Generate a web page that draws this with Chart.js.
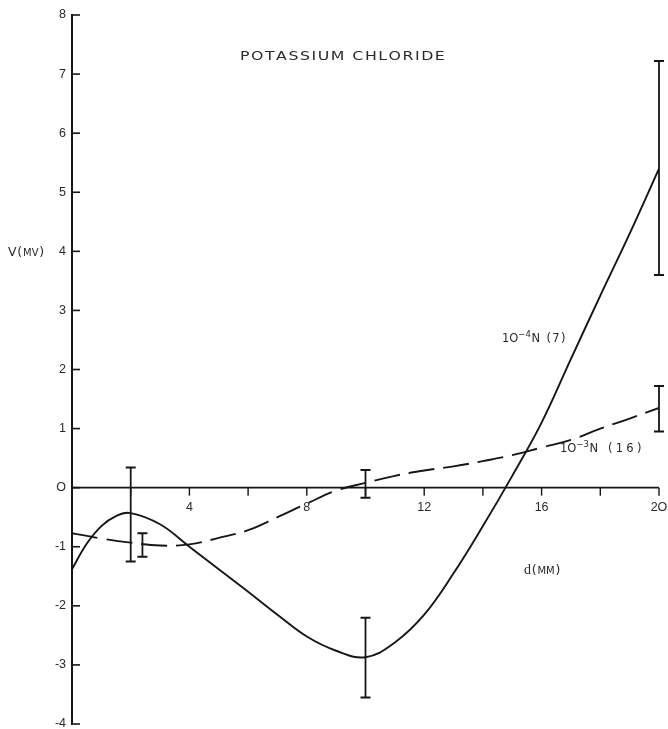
<!DOCTYPE html>
<html>
<head>
<meta charset="utf-8">
<script src="https://cdn.jsdelivr.net/npm/chart.js@4"></script>
<style>
  html, body { margin: 0; padding: 0; background: #fff; }
  canvas { display: block; }
</style>
</head>
<body>
<canvas id="chart" width="668" height="729"></canvas>
<script>
// Distance from the reference point, d (mm)
const dist4 = [0, 0.5, 1, 1.5, 2, 3, 4, 5, 6, 7, 8, 9, 10, 11, 12, 13, 14, 15, 16, 17, 18, 19, 20];
// Potential V (mV), 10^-4 N KCl (7 runs)
const volt4 = [-1.38, -0.95, -0.65, -0.48, -0.43, -0.62, -1.0, -1.38, -1.76, -2.15, -2.52, -2.76, -2.87, -2.62, -2.15, -1.45, -0.65, 0.2, 1.1, 2.18, 3.25, 4.3, 5.4];

const dist3 = [0, 1, 2, 3, 4, 5, 6, 7, 8, 9, 10, 11, 12, 13, 14, 15, 16, 17, 18, 19, 20];
// Potential V (mV), 10^-3 N KCl (16 runs)
const volt3 = [-0.77, -0.86, -0.93, -0.98, -0.96, -0.85, -0.72, -0.5, -0.27, -0.05, 0.08, 0.2, 0.29, 0.36, 0.45, 0.55, 0.68, 0.81, 1.0, 1.17, 1.35];

// Spread at selected distances
const errDist4 = [2, 10, 20];
const errHigh4 = [0.34, -2.2, 7.22];
const errLow4  = [-1.25, -3.55, 3.6];

const errDist3 = [2.4, 10, 20];
const errHigh3 = [-0.77, 0.30, 1.72];
const errLow3  = [-1.17, -0.17, 0.95];

// Axis ticks
const yTicks = [-4, -3, -2, -1, 0, 1, 2, 3, 4, 5, 6, 7, 8];
const xTicks = [2, 4, 6, 8, 10, 12, 14, 16, 18, 20];
const xTickLabels = [4, 8, 12, 16, 20];

const INK = '#161616';
const TEXT = '#2a2a2a';
const FONT = '"Liberation Sans", Arial, sans-serif';
const WIDE = '"DejaVu Sans", Verdana, sans-serif';

function pts(xs, ys) { return xs.map((x, i) => ({ x: x, y: ys[i] })); }

// Axes, error bars and annotations drawn from the chart's own scales
const paperPlugin = {
  id: 'paper',
  afterDatasetsDraw(chart) {
    const ctx = chart.ctx;
    const xs = chart.scales.x, ys = chart.scales.y;
    const px = v => xs.getPixelForValue(v);
    const py = v => ys.getPixelForValue(v);
    ctx.save();
    ctx.strokeStyle = INK;
    ctx.lineCap = 'butt';

    // vertical axis with inward ticks
    const x0 = px(0);
    ctx.lineWidth = 2;
    ctx.beginPath();
    ctx.moveTo(x0, py(8) - 1);
    ctx.lineTo(x0, py(-4) + 1);
    ctx.stroke();
    ctx.lineWidth = 1.6;
    yTicks.forEach(t => {
      ctx.beginPath();
      ctx.moveTo(x0, py(t));
      ctx.lineTo(x0 + 8, py(t));
      ctx.stroke();
    });

    // horizontal axis along V = 0
    const y0 = py(0);
    ctx.lineWidth = 1.8;
    ctx.beginPath();
    ctx.moveTo(x0, y0);
    ctx.lineTo(px(20), y0);
    ctx.stroke();
    ctx.lineWidth = 1.4;
    xTicks.forEach(t => {
      ctx.beginPath();
      ctx.moveTo(px(t), y0);
      ctx.lineTo(px(t), y0 + 8);
      ctx.stroke();
    });

    // tick labels
    ctx.fillStyle = TEXT;
    ctx.font = '12.5px ' + FONT;
    ctx.textAlign = 'right';
    ctx.textBaseline = 'middle';
    yTicks.forEach(t => {
      ctx.fillText(t === 0 ? 'O' : String(t), x0 - 6, py(t));
    });
    ctx.textAlign = 'center';
    xTickLabels.forEach(t => {
      ctx.fillText(t === 20 ? '2O' : String(t), px(t), y0 + 20);
    });

    // error bars
    function bars(xsArr, hi, lo) {
      xsArr.forEach((d, i) => {
        const x = px(d), yt = py(hi[i]), yb = py(lo[i]);
        ctx.lineWidth = 1.8;
        ctx.beginPath();
        ctx.moveTo(x, yt);
        ctx.lineTo(x, yb);
        ctx.stroke();
        ctx.lineWidth = 2;
        ctx.beginPath();
        ctx.moveTo(x - 5, yt); ctx.lineTo(x + 5, yt);
        ctx.moveTo(x - 5, yb); ctx.lineTo(x + 5, yb);
        ctx.stroke();
      });
    }
    bars(errDist4, errHigh4, errLow4);
    bars(errDist3, errHigh3, errLow3);

    // spaced text helper
    function spaced(text, x, y, width) {
      const w = ctx.measureText(text).width;
      const sp = (width - w) / (text.length - 1);
      let cx = x;
      for (const ch of text) {
        ctx.fillText(ch, cx, y);
        cx += ctx.measureText(ch).width + sp;
      }
    }

    // title, set in a wide face
    ctx.textAlign = 'left';
    ctx.textBaseline = 'alphabetic';
    ctx.font = '12.5px ' + WIDE;
    const title = 'POTASSIUM CHLORIDE';
    const natural = ctx.measureText(title).width + 1.2 * (title.length - 1);
    const stretch = 203 / natural;
    ctx.save();
    ctx.translate(240, 60);
    ctx.scale(stretch, 1);
    spaced(title, 0, 0, natural);
    ctx.restore();

    // axis names
    function smallCaps(parts, x, y) {
      let cxx = x;
      parts.forEach(([s, size, font]) => {
        ctx.font = size + 'px ' + (font || WIDE);
        ctx.fillText(s, cxx, y);
        cxx += ctx.measureText(s).width + 0.8;
      });
    }
    smallCaps([['V', 12.5], ['(', 12.5], ['MV', 10], [')', 12.5]], 8, py(4) + 5);
    smallCaps([['d', 14, '"Liberation Serif", serif'], ['(', 12.5], ['MM', 10], [')', 12.5]], 524, 574);

    // series labels with exponent
    function concLabel(exp, tail, x, y, tailW) {
      ctx.font = '11.5px ' + WIDE;
      ctx.fillText('1O', x, y);
      let cxx = x + ctx.measureText('1O').width;
      ctx.font = '8.5px ' + WIDE;
      ctx.fillText(exp, cxx, y - 5);
      cxx += ctx.measureText(exp).width + 0.5;
      ctx.font = '11.5px ' + WIDE;
      spaced(tail, cxx, y, tailW);
    }
    concLabel('\u2212' + '4', 'N (7)', 502, 342, 34);
    concLabel('\u2212' + '3', 'N (16)', 560, 452, 52);

    ctx.restore();
  }
};

new Chart(document.getElementById('chart'), {
  type: 'scatter',
  data: {
    datasets: [
      {
        label: '10^-4 N (7)',
        data: pts(dist4, volt4),
        showLine: true,
        borderColor: INK,
        borderWidth: 1.9,
        pointRadius: 0,
        tension: 0.4,
        fill: false
      },
      {
        label: '10^-3 N (16)',
        data: pts(dist3, volt3),
        showLine: true,
        borderColor: INK,
        borderWidth: 1.9,
        borderDash: [26, 9],
        pointRadius: 0,
        tension: 0.4,
        fill: false
      }
    ]
  },
  options: {
    responsive: false,
    animation: false,
    devicePixelRatio: 1,
    layout: { padding: { left: 72, right: 9, top: 15, bottom: 5 } },
    plugins: { legend: { display: false }, tooltip: { enabled: false } },
    scales: {
      x: { type: 'linear', min: 0, max: 20, display: false },
      y: { type: 'linear', min: -4, max: 8, display: false }
    }
  },
  plugins: [paperPlugin]
});
</script>
</body>
</html>
